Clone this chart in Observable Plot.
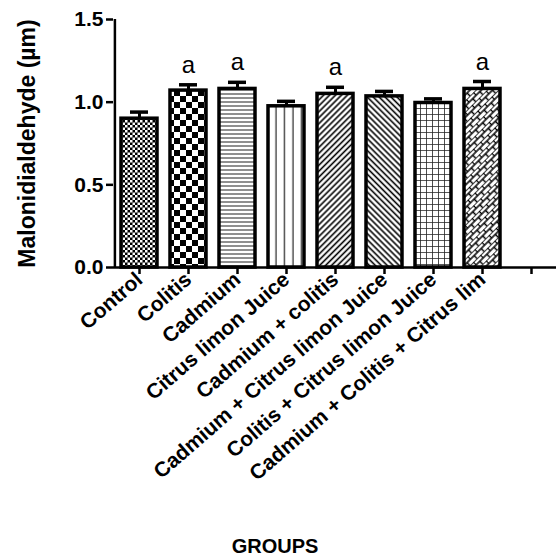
<!DOCTYPE html>
<html>
<head>
<meta charset="utf-8">
<script src="https://cdn.jsdelivr.net/npm/d3@7"></script>
<script src="https://cdn.jsdelivr.net/npm/@observablehq/plot@0.6"></script>
<style>
  html, body { margin: 0; padding: 0; background: #fff; }
  #chart svg { display: block; overflow: visible; }
</style>
</head>
<body>
<div id="chart"></div>
<script>
const groups = [
  "Control",
  "Colitis",
  "Cadmium",
  "Citrus limon Juice",
  "Cadmium + colitis",
  "Cadmium + Citrus limon Juice",
  "Colitis + Citrus limon Juice",
  "Cadmium + Colitis + Citrus lim"
];
const means = [0.90, 1.07, 1.08, 0.975, 1.05, 1.035, 0.995, 1.08];
const sems = [0.04, 0.035, 0.04, 0.03, 0.04, 0.03, 0.025, 0.045];
const sigLetters = ["", "a", "a", "", "a", "", "", "a"];
const patternIds = ["pCtrl", "pCol", "pCad", "pCit", "pCadCol", "pCadCit", "pColCit", "pAll"];
const yTicks = [0, 0.5, 1.0, 1.5];
const xDomain = [...groups, " "];
const yTitle = "Malonidialdehyde (µm)";
const xTitle = "GROUPS";

const data = groups.map((g, i) => ({
  group: g, mean: means[i], sem: sems[i], top: means[i] + sems[i],
  sig: sigLetters[i], fill: `url(#${patternIds[i]})`
}));

const font = "'Liberation Sans', Arial, Helvetica, sans-serif";

const svg = Plot.plot({
  width: 556,
  height: 560,
  marginLeft: 113,
  marginRight: 0,
  marginTop: 19,
  marginBottom: 293,
  style: { fontFamily: font, color: "#000", background: "#fff" },
  x: { domain: xDomain, paddingInner: 0.27, paddingOuter: 0.135, label: null },
  y: { domain: [0, 1.5], label: null },
  color: { type: "identity" },
  marks: [
    Plot.ruleX(data, { x: "group", y1: "mean", y2: "top", stroke: "#000", strokeWidth: 3 }),
    Plot.tickY(data, { x: "group", y: "top", stroke: "#000", strokeWidth: 3.5, inset: 9 }),
    Plot.barY(data, { x: "group", y: "mean", fill: "fill", stroke: "#000", strokeWidth: 3.5 }),
    Plot.text(data.filter(d => d.sig), {
      x: "group", y: "top", text: "sig", dy: -12, lineAnchor: "bottom",
      fontSize: 24, fontWeight: "normal", fill: "#000"
    }),
    Plot.ruleY([0], { stroke: "#000", strokeWidth: 2.5 }),
    Plot.ruleX([groups[0]], { x: d => d, y1: 0, y2: 1.5, dx: -24.6, stroke: "#000", strokeWidth: 2.5 }),
    Plot.axisY({
      ticks: yTicks, tickFormat: d => d.toFixed(1), tickSize: 7, tickPadding: 3,
      fontSize: 21, fontWeight: "bold", strokeWidth: 2.5, label: null
    }),
    Plot.axisX({
      tickSize: 7, tickPadding: 2, tickRotate: -41, fontSize: 21, fontWeight: "bold",
      strokeWidth: 2.5, label: null, tickFormat: d => d
    }),
    Plot.text([yTitle], {
      text: d => d, frameAnchor: "left", dx: -86, rotate: -90, textAnchor: "middle",
      fontSize: 23, fontWeight: "bold", fill: "#000"
    }),
    Plot.text([xTitle], {
      text: d => d, frameAnchor: "bottom", dx: -60, dy: 285,
      fontSize: 20, fontWeight: "bold", fill: "#000"
    })
  ]
});

// pattern definitions
const defs = d3.select(svg).insert("defs", ":first-child");
function pattern(id, w, h, transform) {
  const p = defs.append("pattern").attr("id", id)
    .attr("patternUnits", "userSpaceOnUse").attr("width", w).attr("height", h);
  if (transform) p.attr("patternTransform", transform);
  p.append("rect").attr("width", w).attr("height", h).attr("fill", "#fff");
  return p;
}
// Control: fine checker
{
  const p = pattern("pCtrl", 5, 5);
  p.select("rect").attr("fill", "#000");
  p.append("rect").attr("x", 0).attr("y", 0).attr("width", 2.5).attr("height", 2.5).attr("fill", "#fff");
  p.append("rect").attr("x", 2.5).attr("y", 2.5).attr("width", 2.5).attr("height", 2.5).attr("fill", "#fff");
}
// Colitis: large checker
{
  const p = pattern("pCol", 12, 12);
  p.append("rect").attr("x", 0).attr("y", 0).attr("width", 6).attr("height", 6).attr("fill", "#000");
  p.append("rect").attr("x", 6).attr("y", 6).attr("width", 6).attr("height", 6).attr("fill", "#000");
}
// Cadmium: horizontal lines
{
  const p = pattern("pCad", 4, 4);
  p.append("line").attr("x1", 0).attr("x2", 4).attr("y1", 2).attr("y2", 2).attr("stroke", "#333").attr("stroke-width", 1.1);
}
// Citrus: vertical lines
{
  const p = pattern("pCit", 8.5, 4);
  p.append("line").attr("x1", 4).attr("x2", 4).attr("y1", 0).attr("y2", 4).attr("stroke", "#222").attr("stroke-width", 1.2);
}
// Cadmium + colitis: "/" diagonals
{
  const p = pattern("pCadCol", 4.2, 4.2, "rotate(45)");
  p.append("line").attr("x1", 2.1).attr("x2", 2.1).attr("y1", 0).attr("y2", 4.2).attr("stroke", "#000").attr("stroke-width", 1.6);
}
// Cadmium + Citrus: "\" diagonals
{
  const p = pattern("pCadCit", 4.2, 4.2, "rotate(-45)");
  p.append("line").attr("x1", 2.1).attr("x2", 2.1).attr("y1", 0).attr("y2", 4.2).attr("stroke", "#000").attr("stroke-width", 1.6);
}
// Colitis + Citrus: grid
{
  const p = pattern("pColCit", 6, 6);
  p.append("path").attr("d", "M0,0H6M0,0V6").attr("stroke", "#222").attr("stroke-width", 1.6).attr("fill", "none");
}
// All three: diagonal bricks
{
  const p = pattern("pAll", 8, 10, "rotate(45)");
  p.append("path").attr("d", "M0,0V10M4,0V10M0,0.5H4M4,5.5H8")
    .attr("stroke", "#000").attr("stroke-width", 1.5).attr("fill", "none");
}

document.getElementById("chart").appendChild(svg);
</script>
</body>
</html>
